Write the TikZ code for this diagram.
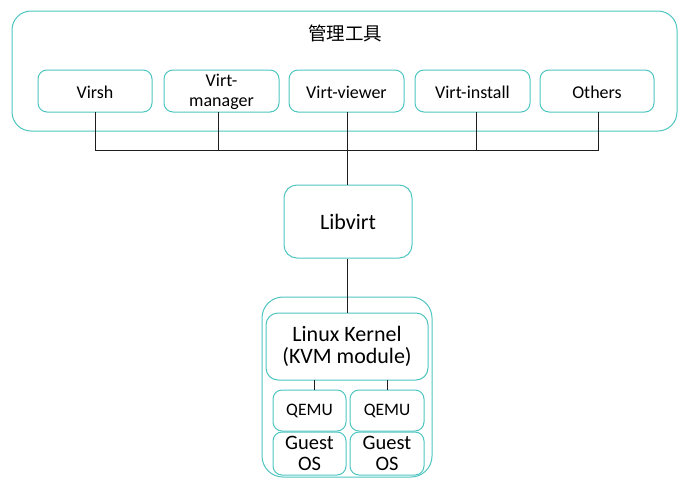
\documentclass[tikz,border=0pt]{standalone}
\usepackage{fontspec}
\setmainfont{Carlito}
\newfontfamily\cjkfont{Noto Sans CJK SC}
\definecolor{tealb}{RGB}{78,197,192}
\definecolor{linec}{RGB}{30,30,30}
\begin{document}
\begin{tikzpicture}[x=1pt,y=-1pt,
  box/.style={draw=tealb,line width=1pt,rounded corners=#1},
  box/.default=10pt,
  lbl/.style={inner sep=0pt,align=center,text=black},
  conn/.style={draw=linec,line width=0.8pt}]
\useasboundingbox (0,0) rectangle (693,490);
% outer tool box
\draw[box=19pt] (12,11) rectangle (677,131);
\node[lbl,font=\cjkfont\fontsize{18.5}{20}\selectfont] (title) at (345,33) {管理工具};
% tool boxes
\foreach \n/\xa/\xb/\t in {virsh/38/152/Virsh, vman/164/279/{Virt-\\manager}, vview/289/404/Virt-viewer, vinst/415/530/Virt-install, others/540/654/Others}{
  \draw[box=9pt] (\xa,70) rectangle (\xb,112);
  \node[lbl,font=\fontsize{18}{20}\selectfont] (\n) at ({(\xa+\xb)/2},92) {\t};
}
\coordinate (b1) at (95,112);
\coordinate (b2) at (218,112);
\coordinate (b3) at (347,112);
\coordinate (b4) at (476,112);
\coordinate (b5) at (598,112);
\coordinate (h1) at (95,150);
\coordinate (h2) at (218,150);
\coordinate (h3) at (347,150);
\coordinate (h4) at (476,150);
\coordinate (h5) at (598,150);
\draw[conn] (b1) -- (h1) -- (h5) -- (b5);
\draw[conn] (b2) -- (h2);
\draw[conn] (b3) -- (h3);
\draw[conn] (b4) -- (h4);
% libvirt
\node[box=13pt,minimum width=128pt,minimum height=73pt,inner sep=0pt,
  font=\fontsize{22}{24}\selectfont] (libvirt) at (348,221.5) {Libvirt};
\draw[conn] (h3) -- (libvirt.north -| h3);
% bottom outer box
\draw[box=21pt] (262,297) rectangle (432,477);
\node[box=12pt,minimum width=162pt,minimum height=67pt,inner sep=0pt,align=center,
  font=\fontsize{22}{22}\selectfont] (kernel) at (347,346.5) {Linux Kernel\\(KVM module)};
\draw[conn] (libvirt.south -| h3) -- (kernel.north -| h3);
% qemu
\node[box=9pt,minimum width=73pt,minimum height=41pt,inner sep=0pt,
  font=\fontsize{17.5}{20}\selectfont] (q1) at (309.5,410.5) {QEMU};
\node[box=9pt,minimum width=74pt,minimum height=41pt,inner sep=0pt,
  font=\fontsize{17.5}{20}\selectfont] (q2) at (387,410.5) {QEMU};
\node[box=9pt,minimum width=73pt,minimum height=43pt,inner sep=0pt,align=center,
  font=\fontsize{20.5}{21}\selectfont] (g1) at (309.5,453.5) {Guest\\OS};
\node[box=9pt,minimum width=74pt,minimum height=43pt,inner sep=0pt,align=center,
  font=\fontsize{20.5}{21}\selectfont] (g2) at (387,453.5) {Guest\\OS};
\coordinate (k1) at (314,380);
\coordinate (k2) at (387,380);
\draw[conn] (k1) -- (q1.north -| k1);
\draw[conn] (k2) -- (q2.north -| k2);
\end{tikzpicture}
\end{document}
